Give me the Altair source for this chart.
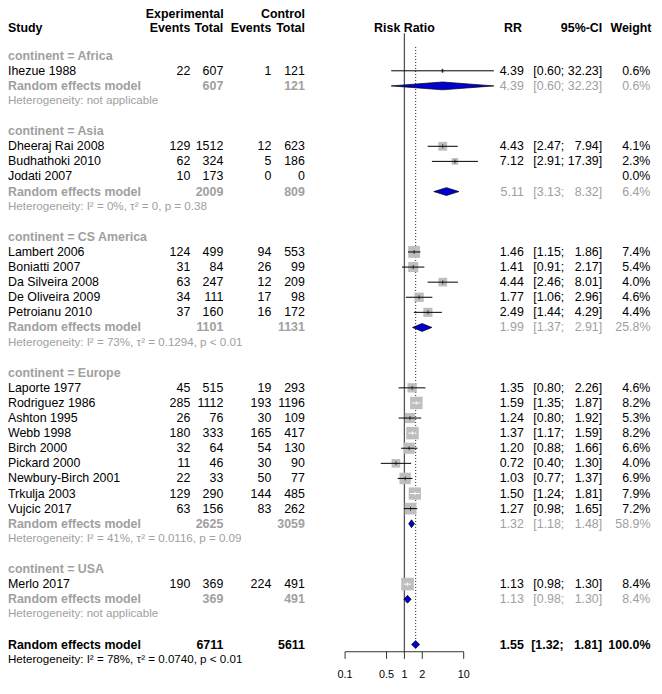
import altair as alt
import pandas as pd
import math

FONT = "Liberation Sans"
GRAY_TXT = "#A0A0A0"
SQUARE_GRAY = "#BEBEBE"
BLUE = "#0000D0"

# ---------------- data ----------------
continents = ["Africa", "Asia", "CS America", "Europe", "USA"]

study_names = ["Ihezue 1988",
               "Dheeraj Rai 2008", "Budhathoki 2010", "Jodati 2007",
               "Lambert 2006", "Boniatti 2007", "Da Silveira 2008", "De Oliveira 2009", "Petroianu 2010",
               "Laporte 1977", "Rodriguez 1986", "Ashton 1995", "Webb 1998", "Birch 2000",
               "Pickard 2000", "Newbury-Birch 2001", "Trkulja 2003", "Vujcic 2017",
               "Merlo 2017"]
study_group = ["Africa",
               "Asia", "Asia", "Asia",
               "CS America", "CS America", "CS America", "CS America", "CS America",
               "Europe", "Europe", "Europe", "Europe", "Europe", "Europe", "Europe", "Europe", "Europe",
               "USA"]
exp_events = [22, 129, 62, 10, 124, 31, 63, 34, 37, 45, 285, 26, 180, 32, 11, 22, 129, 63, 190]
exp_total = [607, 1512, 324, 173, 499, 84, 247, 111, 160, 515, 1112, 76, 333, 64, 46, 33, 290, 156, 369]
ctl_events = [1, 12, 5, 0, 94, 26, 12, 17, 16, 19, 193, 30, 165, 54, 30, 50, 144, 83, 224]
ctl_total = [121, 623, 186, 0, 553, 99, 209, 98, 172, 293, 1196, 109, 417, 130, 90, 77, 485, 262, 491]
risk_ratio = [4.39, 4.43, 7.12, None, 1.46, 1.41, 4.44, 1.77, 2.49,
              1.35, 1.59, 1.24, 1.37, 1.20, 0.72, 1.03, 1.50, 1.27, 1.13]
ci_lower = [0.60, 2.47, 2.91, None, 1.15, 0.91, 2.46, 1.06, 1.44,
            0.80, 1.35, 0.80, 1.17, 0.88, 0.40, 0.77, 1.24, 0.98, 0.98]
ci_upper = [32.23, 7.94, 17.39, None, 1.86, 2.17, 8.01, 2.96, 4.29,
            2.26, 1.87, 1.92, 1.59, 1.66, 1.30, 1.37, 1.81, 1.65, 1.30]
weight = [0.6, 4.1, 2.3, 0.0, 7.4, 5.4, 4.0, 4.6, 4.4,
          4.6, 8.2, 5.3, 8.2, 6.6, 4.0, 6.9, 7.9, 7.2, 8.4]

grp_exp_total = [607, 2009, 1101, 2625, 369]
grp_ctl_total = [121, 809, 1131, 3059, 491]
grp_rr = [4.39, 5.11, 1.99, 1.32, 1.13]
grp_lower = [0.60, 3.13, 1.37, 1.18, 0.98]
grp_upper = [32.23, 8.32, 2.91, 1.48, 1.30]
grp_weight = [0.6, 6.4, 25.8, 58.9, 8.4]
grp_het = ["Heterogeneity: not applicable",
           "Heterogeneity: I² = 0%, τ² = 0, p = 0.38",
           "Heterogeneity: I² = 73%, τ² = 0.1294, p < 0.01",
           "Heterogeneity: I² = 41%, τ² = 0.0116, p = 0.09",
           "Heterogeneity: not applicable"]

overall_exp_total = 6711
overall_ctl_total = 5611
overall_rr = 1.55
overall_lower = 1.32
overall_upper = 1.81
overall_weight = 100.0
overall_het = "Heterogeneity: I² = 78%, τ² = 0.0740, p < 0.01"

axis_ticks = [0.1, 0.5, 1, 2, 10]
axis_labels = ["0.1", "0.5", "1", "2", "10"]

# ---------------- layout constants ----------------
W, H = 644, 672
PX_PER_DECADE = (455.7 - 337.1) / 2.0
MAX_SQ_AREA = 159.0
MAX_W = max(weight)

xs = alt.Scale(type="log", domain=[0.1, 10], range=[337.1, 455.7])
ys = alt.Scale(type="linear", domain=[0, 40], range=[47.7, 651.6])

NB = "\u00a0\u00a0"


def fmt_ci(lo, hi):
    hs = f"{hi:.2f}"
    pad = NB * (5 - len(hs))
    return f"[{lo:.2f};{NB[0]}{pad}{hs}]"


# ---------------- build table rows ----------------
records = []
forest = []
diamonds = []
r = 0
for gi, g in enumerate(continents):
    records.append(dict(row=r, style="grp", label=f"continent = {g}", ee="", et="", ce="", ct="",
                        rrs="", cis="", ws=""))
    r += 1
    for i, s in enumerate(study_names):
        if study_group[i] != g:
            continue
        est = risk_ratio[i]
        records.append(dict(row=r, style="study", label=s, ee=str(exp_events[i]), et=str(exp_total[i]),
                            ce=str(ctl_events[i]), ct=str(ctl_total[i]),
                            rrs="" if est is None else f"{est:.2f}",
                            cis="" if est is None else fmt_ci(ci_lower[i], ci_upper[i]),
                            ws=f"{weight[i]:.1f}%"))
        if est is not None:
            half = math.sqrt(weight[i] / MAX_W * MAX_SQ_AREA) / 2.0
            lo_px = (math.log10(est) - math.log10(ci_lower[i])) * PX_PER_DECADE
            hi_px = (math.log10(ci_upper[i]) - math.log10(est)) * PX_PER_DECADE
            inside = lo_px < half and hi_px < half
            forest.append(dict(row=r, rr=est, lo=ci_lower[i], hi=ci_upper[i], w=weight[i],
                               lc="white" if inside else "black"))
        r += 1
    records.append(dict(row=r, style="re", label="Random effects model", ee="", et=str(grp_exp_total[gi]),
                        ce="", ct=str(grp_ctl_total[gi]), rrs=f"{grp_rr[gi]:.2f}",
                        cis=fmt_ci(grp_lower[gi], grp_upper[gi]), ws=f"{grp_weight[gi]:.1f}%"))
    diamonds.append((g, r, grp_lower[gi], grp_rr[gi], grp_upper[gi]))
    r += 1
    records.append(dict(row=r, style="het", label=grp_het[gi], ee="", et="", ce="", ct="",
                        rrs="", cis="", ws=""))
    r += 2

records.append(dict(row=r, style="ov", label="Random effects model", ee="", et=str(overall_exp_total),
                    ce="", ct=str(overall_ctl_total), rrs=f"{overall_rr:.2f}",
                    cis=fmt_ci(overall_lower, overall_upper), ws=f"{overall_weight:.1f}%"))
diamonds.append(("Overall", r, overall_lower, overall_rr, overall_upper))
ov_row = r
r += 1
records.append(dict(row=r, style="ovhet", label=overall_het, ee="", et="", ce="", ct="",
                    rrs="", cis="", ws=""))

rows_df = pd.DataFrame(records)
forest_df = pd.DataFrame(forest)

HALF_D = 0.26
dpts = []
for g, row, lo, est, hi in diamonds:
    dpts.append(dict(g=g, x=lo, yt=row, yb=row))
    dpts.append(dict(g=g, x=est, yt=row - HALF_D, yb=row + HALF_D))
    dpts.append(dict(g=g, x=hi, yt=row, yb=row))
diam_df = pd.DataFrame(dpts)

# ---------------- text layers ----------------
MAIN = 12.4
SMALL = 11.6

COLS = {"ee": 182.3, "et": 215.3, "ce": 263.3, "ct": 296.9, "rrs": 515.8, "cis": 594.2, "ws": 642.4}

specs = [
    ("grp", "label", 0, "left", GRAY_TXT, True, MAIN),
    ("study", "label", 0, "left", "black", False, MAIN),
    ("re", "label", 0, "left", GRAY_TXT, True, MAIN),
    ("het", "label", 0, "left", GRAY_TXT, False, SMALL),
    ("ov", "label", 0, "left", "black", True, MAIN),
    ("ovhet", "label", 0, "left", "black", False, SMALL),
]
for f in ["ee", "et", "ce", "ct", "rrs", "cis", "ws"]:
    specs.append(("study", f, COLS[f], "right", "black", False, MAIN))
for f in ["et", "ct"]:
    specs.append(("re", f, COLS[f], "right", GRAY_TXT, True, MAIN))
    specs.append(("ov", f, COLS[f], "right", "black", True, MAIN))
for f in ["rrs", "cis", "ws"]:
    specs.append(("re", f, COLS[f], "right", GRAY_TXT, False, MAIN))
    specs.append(("ov", f, COLS[f], "right", "black", True, MAIN))

layers = []

one_df = pd.DataFrame({"v": [1]})
layers.append(
    alt.Chart(one_df).mark_rule(color="#555555", strokeWidth=1.3).encode(
        x=alt.X(datum=1, type="quantitative", scale=xs, axis=None),
        y=alt.Y(datum=-1.48, type="quantitative", scale=ys, axis=None),
        y2=alt.Y2(datum=39.48),
    )
)
layers.append(
    alt.Chart(one_df).mark_rule(color="black", strokeWidth=0.9, strokeDash=[1, 2]).encode(
        x=alt.X(datum=overall_rr, type="quantitative", scale=xs, axis=None),
        y=alt.Y(datum=-0.58, type="quantitative", scale=ys, axis=None),
        y2=alt.Y2(datum=ov_row - HALF_D),
    )
)

layers.append(
    alt.Chart(forest_df).mark_square(filled=True, color=SQUARE_GRAY, opacity=1).encode(
        x=alt.X("rr:Q", scale=xs, axis=None),
        y=alt.Y("row:Q", scale=ys, axis=None),
        size=alt.Size("w:Q", scale=alt.Scale(domain=[0, MAX_W], range=[0, MAX_SQ_AREA]), legend=None),
    )
)
layers.append(
    alt.Chart(forest_df).mark_rule(strokeWidth=1).encode(
        x=alt.X("lo:Q", scale=xs, axis=None),
        x2="hi:Q",
        y=alt.Y("row:Q", scale=ys, axis=None),
        color=alt.Color("lc:N", scale=None),
    )
)
layers.append(
    alt.Chart(forest_df).mark_tick(orient="vertical", size=4, thickness=1).encode(
        x=alt.X("rr:Q", scale=xs, axis=None),
        y=alt.Y("row:Q", scale=ys, axis=None),
        color=alt.Color("lc:N", scale=None),
    )
)
# diamonds as vertical-oriented areas between upper and lower edges
layers.append(
    alt.Chart(diam_df).mark_area(orient="vertical", fill=BLUE, stroke="black", strokeWidth=0.7,
                                 opacity=1, interpolate="linear").encode(
        x=alt.X("x:Q", scale=xs, axis=None),
        y=alt.Y("yt:Q", scale=ys, axis=None, stack=None),
        y2="yb:Q",
        detail="g:N",
    )
)

tick_df = pd.DataFrame({"t": axis_ticks, "lab": axis_labels})
layers.append(
    alt.Chart(one_df).mark_rule(color="#333333", strokeWidth=1).encode(
        x=alt.X(datum=axis_ticks[0], type="quantitative", scale=xs, axis=None),
        x2=alt.X2(datum=axis_ticks[-1]),
        y=alt.Y(datum=39.48, type="quantitative", scale=ys, axis=None),
    )
)
layers.append(
    alt.Chart(tick_df).mark_rule(color="#333333", strokeWidth=1).encode(
        x=alt.X("t:Q", scale=xs, axis=None),
        y=alt.Y(datum=39.48, type="quantitative", scale=ys, axis=None),
        y2=alt.Y2(datum=39.95),
    )
)
layers.append(
    alt.Chart(tick_df).mark_text(font=FONT, fontSize=10.8, baseline="middle", align="center", color="black").encode(
        x=alt.X("t:Q", scale=xs, axis=None),
        y=alt.Y(datum=41.03, type="quantitative", scale=ys, axis=None),
        text="lab:N",
    )
)

layers.append(
    alt.Chart(pd.DataFrame({"t": ["Risk Ratio"]})).mark_text(
        font=FONT, fontSize=MAIN, fontWeight="bold", baseline="middle", align="center", color="black"
    ).encode(
        x=alt.X(datum=1, type="quantitative", scale=xs, axis=None),
        y=alt.Y(datum=-1.84, type="quantitative", scale=ys, axis=None),
        text="t:N",
    )
)

headers = [("Experimental", 215.6, -2.73, "right"), ("Control", 297.0, -2.73, "right"),
           ("Study", 0, -1.84, "left"), ("Events", 182.3, -1.84, "right"), ("Total", 215.3, -1.84, "right"),
           ("Events", 263.3, -1.84, "right"), ("Total", 296.9, -1.84, "right"),
           ("RR", 514.0, -1.84, "right"), ("95%-CI", 594.2, -1.84, "right"), ("Weight", 643.5, -1.84, "right")]
for txt, xp, yr, al in headers:
    layers.append(
        alt.Chart(pd.DataFrame({"t": [txt]})).mark_text(
            font=FONT, fontSize=MAIN, fontWeight="bold", baseline="middle", align=al, color="black"
        ).encode(
            x=alt.value(xp),
            y=alt.Y(datum=yr, type="quantitative", scale=ys, axis=None),
            text="t:N",
        )
    )

for style, field, xp, al, col, bold, fs in specs:
    sub = rows_df[(rows_df["style"] == style) & (rows_df[field] != "")][["row", field]]
    if len(sub) == 0:
        continue
    layers.append(
        alt.Chart(sub).mark_text(
            font=FONT, fontSize=fs, fontWeight="bold" if bold else "normal",
            baseline="middle", align=al, color=col
        ).encode(
            x=alt.value(xp),
            y=alt.Y("row:Q", scale=ys, axis=None),
            text=f"{field}:N",
        )
    )

chart = alt.layer(*layers).properties(
    width=W, height=H, padding=0, autosize="none"
).configure_view(strokeWidth=0)

chart.save("out.html", embed_options={"renderer": "svg", "actions": False})
